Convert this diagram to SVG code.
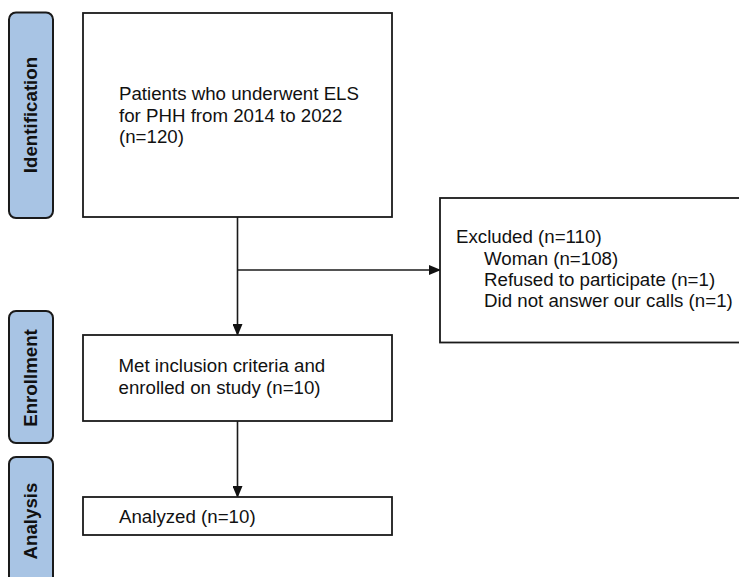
<svg xmlns="http://www.w3.org/2000/svg" width="739" height="577" viewBox="0 0 739 577">
<style>
.tab{fill:#a8c4e4;stroke:#1a1a1a;stroke-width:2}
.box{fill:#ffffff;stroke:#1a1a1a;stroke-width:1.8}
.t{font-family:"Liberation Sans",Arial,sans-serif;font-size:18.7px;fill:#111}
.tt{font-family:"Liberation Sans",Arial,sans-serif;font-size:18.7px;font-weight:bold;fill:#111}
.c{stroke:#1a1a1a;stroke-width:1.6;fill:none}
</style>
<defs>
<marker id="ah" markerWidth="12" markerHeight="10" refX="11" refY="5" orient="auto" markerUnits="userSpaceOnUse">
<path d="M0,0 L12,5 L0,10 Z" fill="#111"/>
</marker>
</defs>
<rect width="739" height="577" fill="#ffffff"/>
<g id="tab-identification">
<rect class="tab" x="9" y="12.5" width="44" height="205.5" rx="7"/>
<text class="tt" transform="translate(37,115) rotate(-90)" text-anchor="middle">Identification</text>
</g>
<g id="tab-enrollment">
<rect class="tab" x="9" y="311" width="44" height="132" rx="7"/>
<text class="tt" transform="translate(37,378) rotate(-90)" text-anchor="middle">Enrollment</text>
</g>
<g id="tab-analysis">
<rect class="tab" x="9" y="457" width="44" height="130" rx="7"/>
<text class="tt" transform="translate(37,521) rotate(-90)" text-anchor="middle">Analysis</text>
</g>
<g id="connectors">
<line class="c" x1="237.5" y1="217" x2="237.5" y2="335" marker-end="url(#ah)"/>
<line class="c" x1="237.5" y1="270" x2="440" y2="270" marker-end="url(#ah)"/>
<line class="c" x1="237.5" y1="421" x2="237.5" y2="497" marker-end="url(#ah)"/>
</g>
<g id="node-identified">
<rect class="box" x="83" y="13" width="309" height="204"/>
<text class="t" x="119" y="100">Patients who underwent ELS</text>
<text class="t" x="119" y="121.5">for PHH from 2014 to 2022</text>
<text class="t" x="119" y="143">(n=120)</text>
</g>
<g id="node-excluded">
<rect class="box" x="440" y="198" width="305" height="144.5"/>
<text class="t" x="456" y="243">Excluded (n=110)</text>
<text class="t" x="484" y="264.5">Woman (n=108)</text>
<text class="t" x="484" y="286">Refused to participate (n=1)</text>
<text class="t" x="484" y="307">Did not answer our calls (n=1)</text>
</g>
<g id="node-enrolled">
<rect class="box" x="83" y="335" width="309" height="86"/>
<text class="t" x="118.5" y="372">Met inclusion criteria and</text>
<text class="t" x="118.5" y="393.5">enrolled on study (n=10)</text>
</g>
<g id="node-analyzed">
<rect class="box" x="83" y="497" width="309" height="38"/>
<text class="t" x="119" y="522.5">Analyzed (n=10)</text>
</g>
</svg>
